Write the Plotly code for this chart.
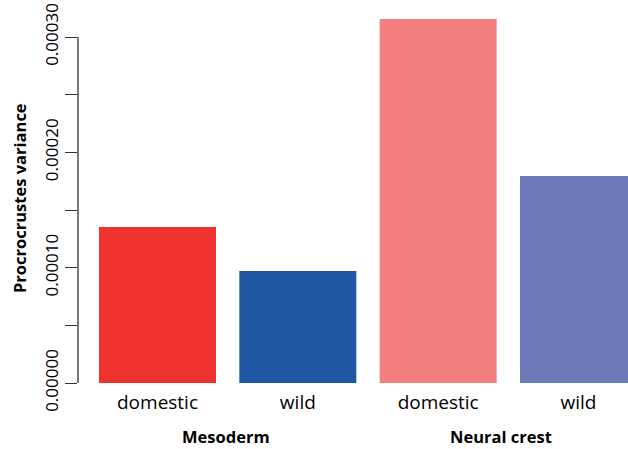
import plotly.graph_objects as go

# Procrustes variance per tissue origin and population
categories = ["domestic", "wild", "domestic", "wild"]
groups = ["Mesoderm", "Neural crest"]
group_centers = [0.49, 2.45]
variance = [0.0001353, 0.0000971, 0.0003157, 0.0001795]
bar_colors = ["#EE322E", "#1F57A5", "#F47F80", "#6B79B9"]

y_tick_vals = [0.0, 0.00005, 0.0001, 0.00015, 0.0002, 0.00025, 0.0003]
y_tick_text = ["0.00000", "", "0.00010", "", "0.00020", "", "0.00030"]

FONT = "Open Sans"
positions = list(range(len(categories)))

fig = go.Figure()
fig.add_trace(go.Bar(
    x=positions,
    y=variance,
    width=0.834,
    marker=dict(color=bar_colors, line=dict(width=0)),
    hoverinfo="skip",
))

# axis spine limited to the labelled tick span
fig.add_shape(type="line", xref="paper", yref="y",
              x0=0, x1=0, y0=y_tick_vals[0], y1=y_tick_vals[-1],
              line=dict(color="#333333", width=1.3))

# group labels under each pair of bars, sitting on the bottom edge
for label, xpos in zip(groups, group_centers):
    fig.add_annotation(text=f"<b>{label}</b>", x=xpos, xref="x",
                       y=-0.1723, yref="paper", borderpad=0,
                       showarrow=False, font=dict(family=FONT, size=16.5, color="black"),
                       yanchor="bottom", xanchor="center")

# y-axis title
fig.add_annotation(text="<b>Procrocrustes variance</b>", textangle=-90,
                   x=-0.1073, xref="paper", y=0.483, yref="paper",
                   showarrow=False, xanchor="center", yanchor="middle",
                   font=dict(family=FONT, size=16.5, color="black"))

fig.update_layout(
    width=628, height=449,
    margin=dict(l=78, r=0, t=0, b=66),
    paper_bgcolor="white", plot_bgcolor="white",
    showlegend=False,
    xaxis=dict(
        range=[-0.5665, 3.3528],
        tickvals=positions, ticktext=categories,
        ticks="", showline=False, showgrid=False, zeroline=False,
        ticklabelstandoff=6,
        tickfont=dict(family=FONT, size=19, color="black"),
    ),
    yaxis=dict(
        range=[0, 0.00033208],
        tickvals=y_tick_vals, ticktext=y_tick_text,
        ticks="outside", ticklen=12, tickwidth=1.3, tickcolor="#333333",
        tickangle=-90, showline=False, showgrid=False, zeroline=False,
        tickfont=dict(family=FONT, size=17, color="black"),
    ),
)

fig.write_html("out.html")
